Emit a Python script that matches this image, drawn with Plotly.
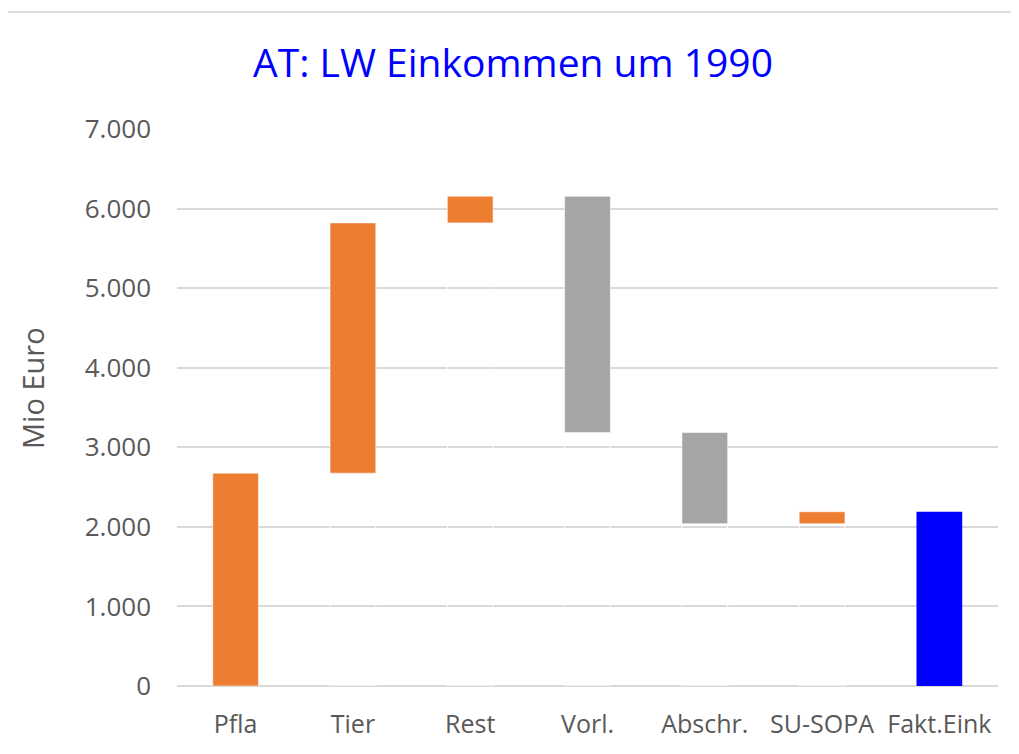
import plotly.graph_objects as go

# ---- data ----
categories = ["Pfla", "Tier", "Rest", "Vorl.", "Abschr.", "SU-SOPA", "Fakt.Eink"]
changes = [2675, 3145, 335, -2970, -1145, 150, 2190]
measures = ["relative", "relative", "relative", "relative", "relative", "relative", "total"]
y_ticks = [0, 1000, 2000, 3000, 4000, 5000, 6000, 7000]

title_text = "AT: LW Einkommen um 1990"
y_title = "Mio Euro"

C_UP = "#ED7D31"
C_DOWN = "#A5A5A5"
C_TOTAL = "#0000FF"
GRID = "#D9D9D9"
TXT = "#595959"
FONT = "Open Sans"

# ---- derive floating bars ----
lows, highs, colors, base_cats, base_tops = [], [], [], [], []
running = 0
for cat, ch, m in zip(categories, changes, measures):
    if m == "total":
        lo, hi = 0, ch
        col = C_TOTAL
        running = ch
    else:
        start = running
        end = running + ch
        lo, hi = min(start, end), max(start, end)
        col = C_UP if ch >= 0 else C_DOWN
        running = end
        if lo > 0:
            base_cats.append(cat)
            base_tops.append(lo)
    lows.append(lo)
    highs.append(hi)
    colors.append(col)

line_cols = ["rgba(0,0,0,0)" if c == C_TOTAL else "rgba(255,255,255,0.55)" for c in colors]

W, H = 1019, 754
L, R, T, B = 169, 29, 121, 76

fig = go.Figure()
# invisible base bars (white outline as in the original stacked chart)
fig.add_trace(go.Bar(
    x=base_cats, y=base_tops, base=0,
    marker=dict(color="rgba(0,0,0,0)", line=dict(color="white", width=1)),
    hoverinfo="skip", showlegend=False,
))
fig.add_trace(go.Bar(
    x=categories, y=[h - l for h, l in zip(highs, lows)], base=lows,
    marker=dict(color=colors, line=dict(color=line_cols, width=1)),
    showlegend=False,
))

pw = W - L - R
ph = H - T - B
top_line_y = 1 + (T - 4) / ph
fig.add_shape(type="line", xref="paper", yref="paper",
              x0=-L / pw, x1=1 + R / pw, y0=top_line_y, y1=top_line_y,
              line=dict(color="#DDDDDD", width=2))

fig.add_annotation(
    text=y_title, textangle=-90, showarrow=False,
    xref="paper", yref="paper",
    x=-(L - 24) / pw, y=0.535, xanchor="center", yanchor="middle",
    font=dict(family=FONT, size=29, color=TXT),
)

fig.update_layout(
    width=W, height=H,
    margin=dict(l=L, r=R, t=T, b=B),
    paper_bgcolor="white", plot_bgcolor="white",
    barmode="overlay", bargap=0.61,
    separators=",.",
    font=dict(family=FONT, color=TXT, size=25),
    title=dict(text=title_text, x=505 / W, xanchor="center", xref="container",
               y=1 - 55.5 / H, yref="container", yanchor="middle",
               font=dict(family=FONT, size=39, color="#0000FF")),
    showlegend=False,
)
fig.update_xaxes(
    categoryorder="array", categoryarray=categories,
    showgrid=False, showline=False, zeroline=False, ticks="",
    tickfont=dict(family=FONT, size=25, color=TXT),
    ticklabelstandoff=21,
)
fig.update_yaxes(
    range=[0, 7000], tickvals=y_ticks, tickformat=",d",
    showgrid=True, gridcolor=GRID, gridwidth=1.5,
    zeroline=True, zerolinecolor=GRID, zerolinewidth=1.5,
    showline=False, ticks="",
    tickfont=dict(family=FONT, size=26, color=TXT),
    ticklabelstandoff=25,
)

fig.write_html("out.html")
